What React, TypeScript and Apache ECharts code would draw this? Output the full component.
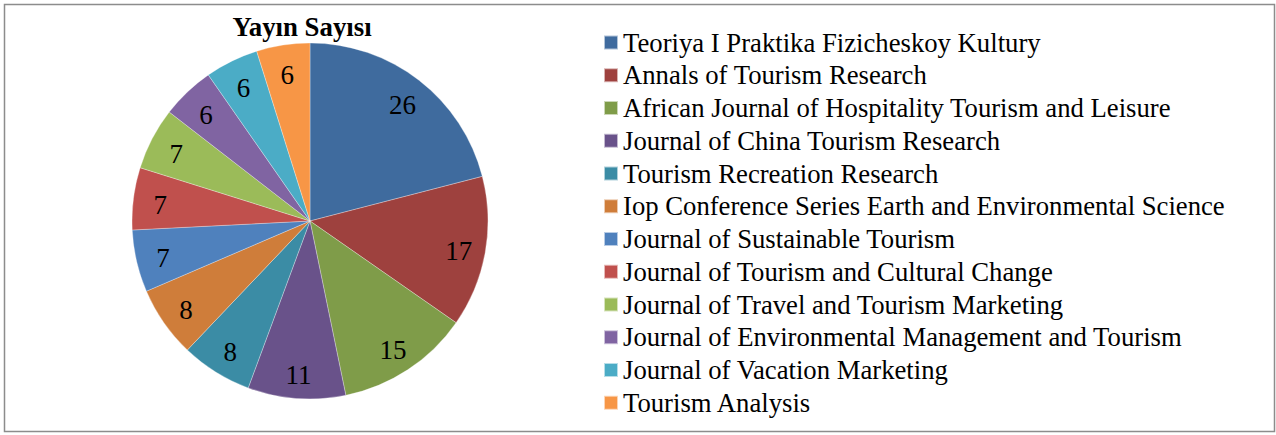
import React, { useEffect, useRef } from "react";
import * as echarts from "echarts";

const titleText = "Yayın Sayısı";
const journals = [
  "Teoriya I Praktika Fizicheskoy Kultury",
  "Annals of Tourism Research",
  "African Journal of Hospitality Tourism and Leisure",
  "Journal of China Tourism Research",
  "Tourism Recreation Research",
  "Iop Conference Series Earth and Environmental Science",
  "Journal of Sustainable Tourism",
  "Journal of Tourism and Cultural Change",
  "Journal of Travel and Tourism Marketing",
  "Journal of Environmental Management and Tourism",
  "Journal of Vacation Marketing",
  "Tourism Analysis",
];
const counts = [26, 17, 15, 11, 8, 8, 7, 7, 7, 6, 6, 6];
const colors = [
  "#3F6B9E", "#9E413E", "#7F9C49", "#69528A", "#3B8CA5", "#CF7D3A",
  "#4F81BD", "#C0504D", "#9BBB59", "#8064A2", "#4BACC6", "#F79646",
];

const SERIF = "'Liberation Serif', 'Times New Roman', serif";

export default function App() {
  const ref = useRef<HTMLDivElement>(null);
  useEffect(() => {
    if (!ref.current) return;
    const chart = echarts.init(ref.current, undefined, { renderer: "svg" });
    const data = journals.map((name, i) => ({
      name,
      value: counts[i],
      itemStyle: { color: colors[i] },
    }));
    chart.setOption({
      animation: false,
      backgroundColor: "#ffffff",
      title: {
        text: titleText,
        left: 302,
        top: 13,
        padding: 0,
        textAlign: "center",
        textStyle: {
          fontFamily: SERIF,
          fontWeight: "bold",
          fontSize: 26.8,
          color: "#000",
        },
      },
      legend: {
        orient: "vertical",
        left: 603,
        top: 29,
        padding: 0,
        itemWidth: 14,
        itemHeight: 14,
        itemGap: 5.75,
        icon: "rect",
        selectedMode: false,
        data: journals.map((name, i) => ({
          name,
          itemStyle: { color: colors[i] },
        })),
        textStyle: {
          fontFamily: SERIF,
          fontSize: 26.7,
          lineHeight: 26,
          color: "#000",
        },
      },
      graphic: [
        {
          type: "rect",
          shape: { x: 4.5, y: 4.5, width: 1270, height: 427 },
          style: { fill: "none", stroke: "#8c8c8c", lineWidth: 1.5 },
          silent: true,
        },
      ],
      series: [
        {
          type: "pie",
          center: [310, 221],
          radius: [0, 178],
          startAngle: 90,
          clockwise: true,
          data,
          label: { show: false },
          labelLine: { show: false },
          itemStyle: { borderColor: "rgba(255,255,255,0.6)", borderWidth: 0.5 },
          emphasis: { disabled: true },
        },
        {
          type: "pie",
          center: [310, 221],
          radius: [118, 178],
          startAngle: 90,
          clockwise: true,
          silent: true,
          data: journals.map((name, i) => ({ name, value: counts[i] })),
          itemStyle: { color: "rgba(0,0,0,0)" },
          label: {
            show: true,
            position: "inside",
            formatter: "{c}",
            fontFamily: SERIF,
            fontSize: 27,
            color: "#000",
            offset: [0, 3],
          },
          labelLine: { show: false },
          emphasis: { disabled: true },
        },
      ],
    });
    return () => chart.dispose();
  }, []);
  return (
    <div
      ref={ref}
      style={{ position: "absolute", left: 0, top: 0, width: 1276, height: 435 }}
    />
  );
}
